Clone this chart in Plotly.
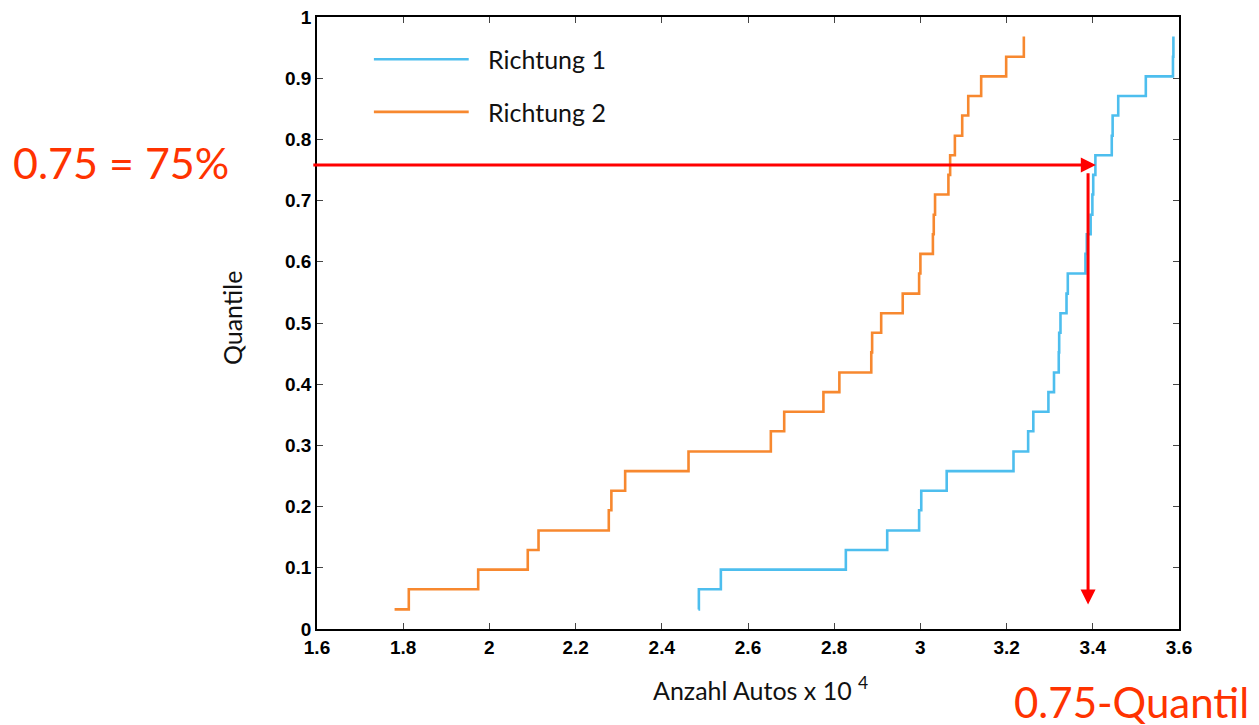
import plotly.graph_objects as go

# Quantile levels (read from the y positions of the steps)
quantile_levels = [0.032, 0.065, 0.097, 0.129, 0.161, 0.194, 0.226, 0.258, 0.290, 0.323,
                   0.355, 0.387, 0.419, 0.452, 0.484, 0.516, 0.548, 0.581, 0.613, 0.645,
                   0.677, 0.710, 0.742, 0.774, 0.806, 0.839, 0.871, 0.903, 0.935, 0.968]

# Sorted car counts (x 10^4) for each direction
richtung_1 = [2.485, 2.486, 2.537, 2.827, 2.923, 2.997, 3.002, 3.061, 3.216, 3.250,
              3.262, 3.297, 3.310, 3.321, 3.322, 3.325, 3.339, 3.342, 3.383, 3.386,
              3.395, 3.399, 3.401, 3.406, 3.444, 3.446, 3.459, 3.523, 3.586, 3.587]
richtung_2 = [1.780, 1.813, 1.974, 2.089, 2.114, 2.277, 2.283, 2.315, 2.462, 2.653,
              2.684, 2.775, 2.812, 2.886, 2.888, 2.909, 2.959, 2.997, 3.000, 3.029,
              3.031, 3.034, 3.065, 3.069, 3.080, 3.097, 3.111, 3.141, 3.199, 3.240]

series_names = ["Richtung 1", "Richtung 2"]
series_colors = ["#4DBEEE", "#F7882F"]

x_ticks = [1.6, 1.8, 2.0, 2.2, 2.4, 2.6, 2.8, 3.0, 3.2, 3.4, 3.6]
x_tick_labels = ["1.6", "1.8", "2", "2.2", "2.4", "2.6", "2.8", "3", "3.2", "3.4", "3.6"]
y_ticks = [0, 0.1, 0.2, 0.3, 0.4, 0.5, 0.6, 0.7, 0.8, 0.9, 1.0]
y_tick_labels = ["0", "0.1", "0.2", "0.3", "0.4", "0.5", "0.6", "0.7", "0.8", "0.9", "1"]

q_level = 0.758      # marked quantile level (arrow height)
q_value = 3.389      # read-off quantile value
q_arrow_tip = 3.407

fig = go.Figure()
for xs, name, col in zip([richtung_1, richtung_2], series_names, series_colors):
    fig.add_trace(go.Scatter(x=xs, y=quantile_levels, mode="lines", name=name,
                             line=dict(color=col, width=2.6, shape="hv"),
                             showlegend=False))

label_font = dict(family="Lato, 'Open Sans', sans-serif", size=25, color="#111111")

annotations = []
shapes = []
# manual legend (inside the axes, upper left)
leg_y = [0.931, 0.845]
for yy, name, col in zip(leg_y, series_names, series_colors):
    shapes.append(dict(type="line", xref="paper", yref="paper",
                       x0=0.066, x1=0.176, y0=yy, y1=yy,
                       line=dict(color=col, width=2.6)))
    annotations.append(dict(xref="paper", yref="paper", x=0.196, y=yy,
                            xanchor="left", yanchor="middle", showarrow=False,
                            text=name, font=label_font))

# axis titles
annotations.append(dict(xref="paper", yref="paper", x=0.514, y=-0.097,
                        xanchor="center", yanchor="middle", showarrow=False,
                        text="Anzahl Autos x 10 <sup>4</sup>", font=label_font))
annotations.append(dict(xref="paper", yref="paper", x=-0.0986, y=0.508,
                        xanchor="center", yanchor="middle", showarrow=False,
                        textangle=-90, text="Quantile", font=label_font))

# red arrows
annotations.append(dict(x=q_arrow_tip, y=q_level, ax=1.588, ay=q_level,
                        xref="x", yref="y", axref="x", ayref="y",
                        showarrow=True, arrowhead=2, arrowsize=1.0, arrowwidth=3,
                        arrowcolor="#FF0000", text=""))
annotations.append(dict(x=q_value, y=0.040, ax=q_value, ay=0.747,
                        xref="x", yref="y", axref="x", ayref="y",
                        showarrow=True, arrowhead=2, arrowsize=1.0, arrowwidth=3,
                        arrowcolor="#FF0000", text=""))

# slide texts
big_font = dict(family="Lato, 'Open Sans', sans-serif", size=42, color="#FF3300")
annotations.append(dict(xref="paper", yref="paper", x=-0.2274, y=0.763,
                        xanchor="center", yanchor="middle", showarrow=False,
                        text="0.75 = 75%", font=dict(big_font, size=43)))
annotations.append(dict(xref="paper", yref="paper", x=1.084, y=-0.119,
                        xanchor="right", yanchor="middle", showarrow=False,
                        text="0.75-Quantil", font=big_font))

tick_font = dict(family="'Liberation Sans', Arial, sans-serif", size=19,
                 color="#000000", weight="bold")

fig.update_layout(
    width=1245, height=717,
    margin=dict(l=309, r=74, t=9, b=96, autoexpand=False),
    plot_bgcolor="white", paper_bgcolor="white",
    annotations=annotations, shapes=shapes,
    showlegend=False,
    xaxis=dict(range=[1.6, 3.6], tickvals=x_ticks, ticktext=x_tick_labels,
               showgrid=False, zeroline=False, showline=True, linecolor="black",
               linewidth=1.6, mirror="ticks", ticks="inside", ticklen=6,
               tickcolor="#444444", tickwidth=1.2, tickfont=tick_font,
               automargin=False, ticklabeloverflow="allow"),
    yaxis=dict(range=[0, 1], tickvals=y_ticks, ticktext=y_tick_labels,
               showgrid=False, zeroline=False, showline=True, linecolor="black",
               linewidth=1.6, mirror="ticks", ticks="inside", ticklen=6,
               tickcolor="#444444", tickwidth=1.2, tickfont=tick_font,
               automargin=False, ticklabeloverflow="allow"),
)

fig.write_html("out.html")
